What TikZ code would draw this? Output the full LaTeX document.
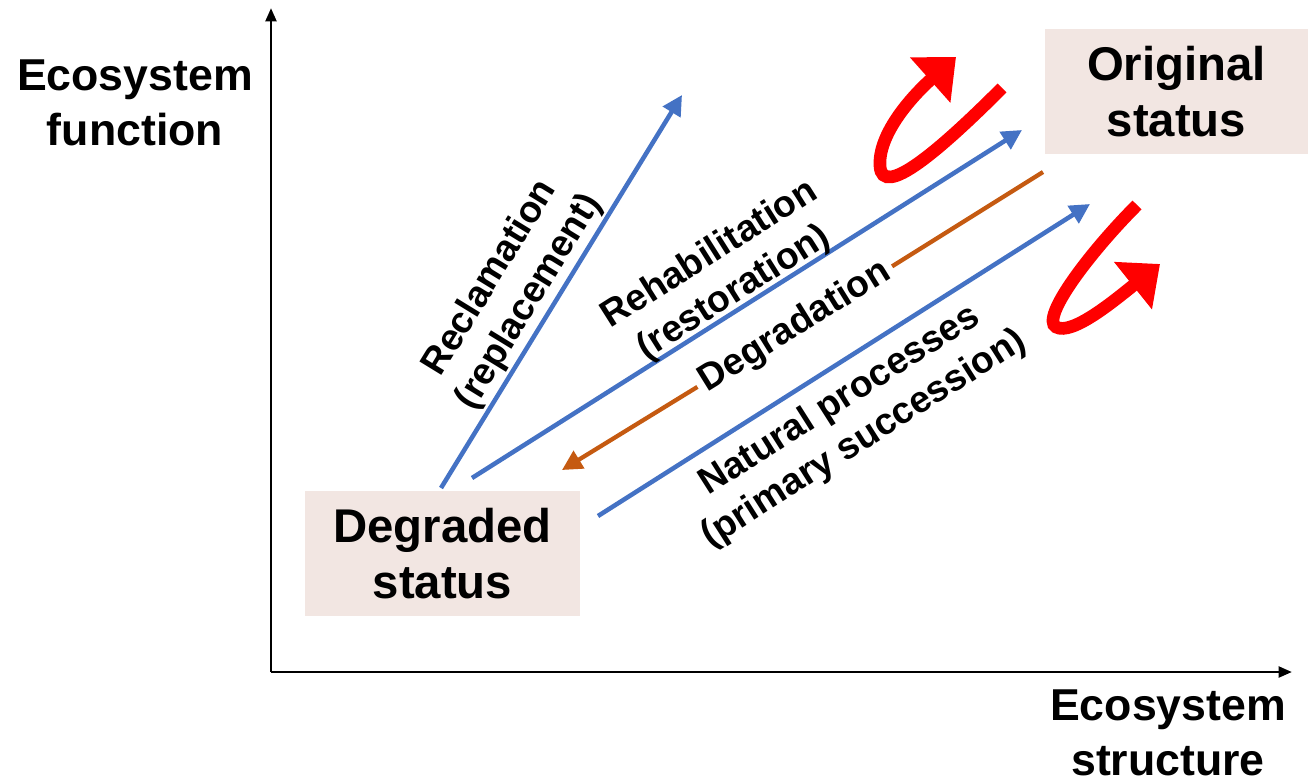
\documentclass[tikz,border=0pt]{standalone}
\usepackage{fontspec}
\setmainfont{Liberation Sans}
\usetikzlibrary{arrows.meta}
\definecolor{myblue}{RGB}{68,114,196}
\definecolor{mybrown}{RGB}{197,90,17}
\definecolor{boxfill}{RGB}{242,230,226}
\definecolor{myred}{RGB}{255,0,0}
\begin{document}
\begin{tikzpicture}[x=0.75pt,y=-0.75pt,
  axis/.style={line width=2.2pt,-{Triangle[length=10pt,width=8pt]}},
  bluearrow/.style={myblue,line width=3.4pt,-{Triangle[length=15pt,width=15pt]}},
  brownline/.style={mybrown,line width=3.2pt},
  redarrow/.style={myred,line width=9.5pt,-{Triangle[length=26pt,width=44pt]}},
  axislabel/.style={font=\fontsize{33.5}{41}\selectfont\bfseries,align=center,inner sep=0pt},
  statusbox/.style={fill=boxfill,minimum width=206pt,minimum height=94pt,align=center,
    font=\fontsize{35.5}{42}\selectfont\bfseries,inner sep=0pt},
  proclabel/.style={font=\fontsize{28}{34}\selectfont\bfseries,align=center,inner sep=0pt}
]
\useasboundingbox (0,0) rectangle (1308,779);
% axes
\coordinate (O) at (271,672);
\coordinate (ytop) at (271,8);
\coordinate (xend) at (1292,672);
\draw[axis] (O) -- (ytop);
\draw[axis] (O) -- (xend);
\node[axislabel] (ylab) at (135,103) {Ecosystem\\function};
\node[axislabel] (xlab) at (1168,733) {Ecosystem\\structure};
% status boxes
\node[statusbox,minimum width=197pt] (orig) at (1176.5,91.5) {Original\\status};
\node[statusbox] (degr) at (442.5,553.5) {Degraded\\status};
% blue arrows
\coordinate (r1s) at (441,488); \coordinate (r1e) at (682,95);
\coordinate (r2s) at (472,478); \coordinate (r2e) at (1022,130);
\coordinate (r3s) at (598,516); \coordinate (r3e) at (1090,204);
\draw[bluearrow] (r1s) -- (r1e);
\draw[bluearrow] (r2s) -- (r2e);
\draw[bluearrow] (r3s) -- (r3e);
% labels
\node[proclabel,rotate=58.5] (lrecl) at (510,290) {Reclamation\\(replacement)};
\node[proclabel,rotate=32.3] (lreha) at (722,274) {Rehabilitation\\(restoration)};
\node[proclabel,rotate=32.4] (lnat) at (852,420) {Natural processes\\(primary succession)};
% degradation
\coordinate (dgs) at (1043,172);
\coordinate (dge) at (562,470);
\node[proclabel,rotate=31.8,inner sep=4pt] (deg) at (795,327) {Degradation};
\draw[brownline] (dgs) -- (deg);
\draw[brownline,-{Triangle[length=15pt,width=15pt]}] (deg) -- (dge);
% red curved arrows
\coordinate (c1s) at (1002,88);
\coordinate (c1e) at (956,57);
\draw[redarrow] (c1s) .. controls (940,150) and (882,200) .. (880,166)
   .. controls (878,135) and (910,98) .. (c1e);
\coordinate (c2s) at (1137,205);
\coordinate (c2e) at (1160,264);
\draw[redarrow] (c2s) .. controls (1090,252) and (1040,318) .. (1056,327)
   .. controls (1072,336) and (1115,300) .. (c2e);
\end{tikzpicture}
\end{document}
